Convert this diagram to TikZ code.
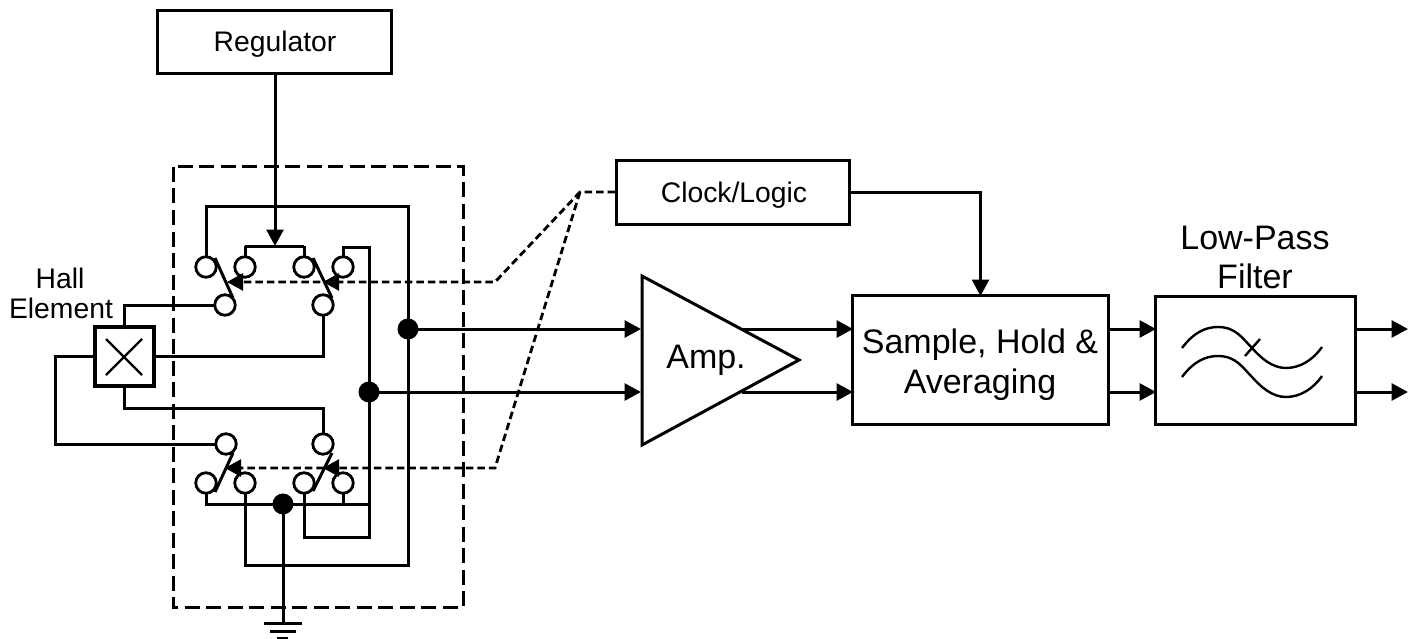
\documentclass[tikz,border=0pt]{standalone}
\usepackage{fontspec}
\setmainfont{Liberation Sans}
\usetikzlibrary{arrows.meta,calc}
\tikzset{
  x=1pt,y=-1pt,
  wire/.style={line width=3pt,line join=miter},
  arrowwire/.style={wire,-{Triangle[length=16.5pt,width=17pt]}},
  block/.style={draw,line width=3pt,inner sep=0pt,rectangle},
  label28/.style={font=\fontsize{28.3}{33}\selectfont,align=center,inner sep=0pt},
  label34/.style={font=\fontsize{34}{43}\selectfont,align=center,inner sep=0pt},
  term/.style={circle,draw,line width=2.8pt,fill=white,minimum size=20.5pt,inner sep=0pt},
  dot/.style={circle,fill=black,minimum size=21pt,inner sep=0pt},
  ctrl/.style={line width=2.8pt,dash pattern=on 7.5pt off 4pt},
  ctrlhead/.style={-{Triangle[length=16pt,width=17pt]}},
  outline/.style={line width=3pt,dash pattern=on 15pt off 6.5pt},
  blade/.style={line width=3pt},
}
\begin{document}
\begin{tikzpicture}
\useasboundingbox (0,0) rectangle (1421,639);
% blocks
\node[block,minimum width=234pt,minimum height=63pt] (reg) at (274.5,42) {};
\node[label28,anchor=base] (regt) at (275,52) {Regulator};
\node[block,minimum width=233pt,minimum height=64pt] (clk) at (733,192.5) {};
\node[label28,anchor=base] (clkt) at (734,203) {Clock/Logic};
\node[block,minimum width=256pt,minimum height=129pt] (sha) at (980.5,360) {};
\node[label34,anchor=base] (shat1) at (980,353) {Sample, Hold \&};
\node[label34,anchor=base] (shat2) at (980,393) {Averaging};
\node[block,minimum width=200pt,minimum height=128pt] (lpf) at (1255.5,360.5) {};
\node[label34,anchor=base] (lpft1) at (1255,249) {Low-Pass};
\node[label34,anchor=base] (lpft2) at (1255,288) {Filter};
\node[label28,anchor=base] (hall1) at (60,288) {Hall};
\node[label28,anchor=base] (hall2) at (61,318) {Element};
% amp
\coordinate (ampa) at (642,276);
\coordinate (ampb) at (642,445);
\coordinate (ampc) at (799,360);
\draw[line width=3pt,line join=miter] (ampa) -- (ampc) -- (ampb) -- cycle;
\node[label34,anchor=base] (amp) at (706,368) {Amp.};
% hall element
\node[draw,line width=4.5pt,minimum size=59pt,inner sep=0pt] (hall) at (124.5,356.5) {};
\draw[line width=2.4pt] (106,339) -- (142,375) (142,339) -- (106,375);
% junctions / bends
\coordinate (tl) at (206,207);
\coordinate (tr) at (408,207);
\coordinate (busa) at (245,246);
\coordinate (busb) at (304,246);
\coordinate (busm) at (275,246);
\coordinate (dcr) at (369,247);
\coordinate (dcl) at (343,247);
\coordinate (r1) at (408,329);
\coordinate (r2) at (369,392);
\coordinate (bl) at (206,504);
\coordinate (br) at (369,504);
\coordinate (gnd) at (283,504);
\coordinate (bot1) at (245,565);
\coordinate (bot2) at (408,565);
\coordinate (in1) at (304,537);
\coordinate (in2) at (369,537);
\coordinate (g1) at (283,623);
% wires
\draw[arrowwire] (reg.south -| busm) -- (busm);
\draw[wire] (busa) -- (busb);
\draw[wire] (245,267) -- (busa);
\draw[wire] (304,267) -- (busb);
\draw[wire] (206,267) -- (tl) -- (tr) -- (bot2) -- (bot1) -- (245,483);
\draw[wire] (343,267) -- (dcl) -- (dcr) -- (in2) -- (in1) -- (304,483);
\draw[wire] (225,305) -- (124,305) -- (124,329);
\draw[wire] (153,356) -- (323,356) -- (323,305);
\draw[wire] (97,356) -- (55,356) -- (55,444) -- (226,444);
\draw[wire] (124,384) -- (124,408) -- (323,408) -- (323,444);
\draw[wire] (206,483) -- (bl) -- (br);
\draw[wire] (343,483) -- (343,504);
\draw[wire] (gnd) -- (g1);
\draw[wire] (264,623) -- (302,623);
\draw[wire] (270,631) -- (296,631);
\draw[wire] (277,638.5) -- (288,638.5);
% outputs
\draw[arrowwire] (r1) -- (641,329);
\draw[arrowwire] (r2) -- (641,392);
\draw[arrowwire] (742,329) -- (853,329);
\draw[arrowwire] (742,392) -- (853,392);
\draw[arrowwire] (1108,329) -- (1156,329);
\draw[arrowwire] (1108,392) -- (1156,392);
\draw[arrowwire] (1355,329) -- (1408,329);
\draw[arrowwire] (1355,392) -- (1408,392);
\draw[arrowwire] (clk.east) -- (980.5,192.5) -- (980.5,296);
% dots
\node[dot] (d1) at (r1) {};
\node[dot] (d2) at (r2) {};
\node[dot] (d3) at (gnd) {};
% switches
\node[term] (a1) at (206,267) {};
\node[term] (a2) at (245,267) {};
\node[term] (a3) at (304,267) {};
\node[term] (a4) at (343,267) {};
\node[term] (p1) at (225,305) {};
\node[term] (p2) at (323,305) {};
\node[term] (b1) at (206,483) {};
\node[term] (b2) at (245,483) {};
\node[term] (b3) at (304,483) {};
\node[term] (b4) at (343,483) {};
\node[term] (p3) at (226,444) {};
\node[term] (p4) at (323,444) {};
\draw[blade] (215,258) -- (233,298);
\draw[blade] (313,258) -- (332,298);
\draw[blade] (233,453) -- (215,492);
\draw[blade] (332,453) -- (313,491);
% control
\coordinate (cj) at (580,192);
\coordinate (ck1) at (495,282);
\coordinate (ck2) at (495,468);
\draw[ctrl] (clk.west |- cj) -- (cj) -- (ck1) -- (240,282);
\draw[ctrl] (cj) -- (ck2) -- (238,468);
\draw[ctrlhead,line width=2.4pt] (242,282) -- (227,282);
\draw[ctrlhead,line width=2.4pt] (338,282) -- (323,282);
\draw[ctrlhead,line width=2.4pt] (240,468) -- (225,468);
\draw[ctrlhead,line width=2.4pt] (338,468) -- (323,468);
% outline
\draw[outline] (173,167) rectangle (463,607);
% filter glyph
\draw[line width=2.4pt] (1182,348) .. controls (1194,332) and (1206,327) .. (1218,327) .. controls (1236,327) and (1243,339) .. (1252,348) .. controls (1261,358) and (1272,368) .. (1286,368) .. controls (1300,368) and (1313,360) .. (1322,347);
\draw[line width=2.4pt] (1182,377) .. controls (1194,361) and (1206,356) .. (1218,356) .. controls (1236,356) and (1243,368) .. (1252,377) .. controls (1261,387) and (1272,397) .. (1286,397) .. controls (1300,397) and (1313,389) .. (1322,376);
\draw[line width=2.4pt] (1245,356) -- (1260,339);
\end{tikzpicture}
\end{document}
